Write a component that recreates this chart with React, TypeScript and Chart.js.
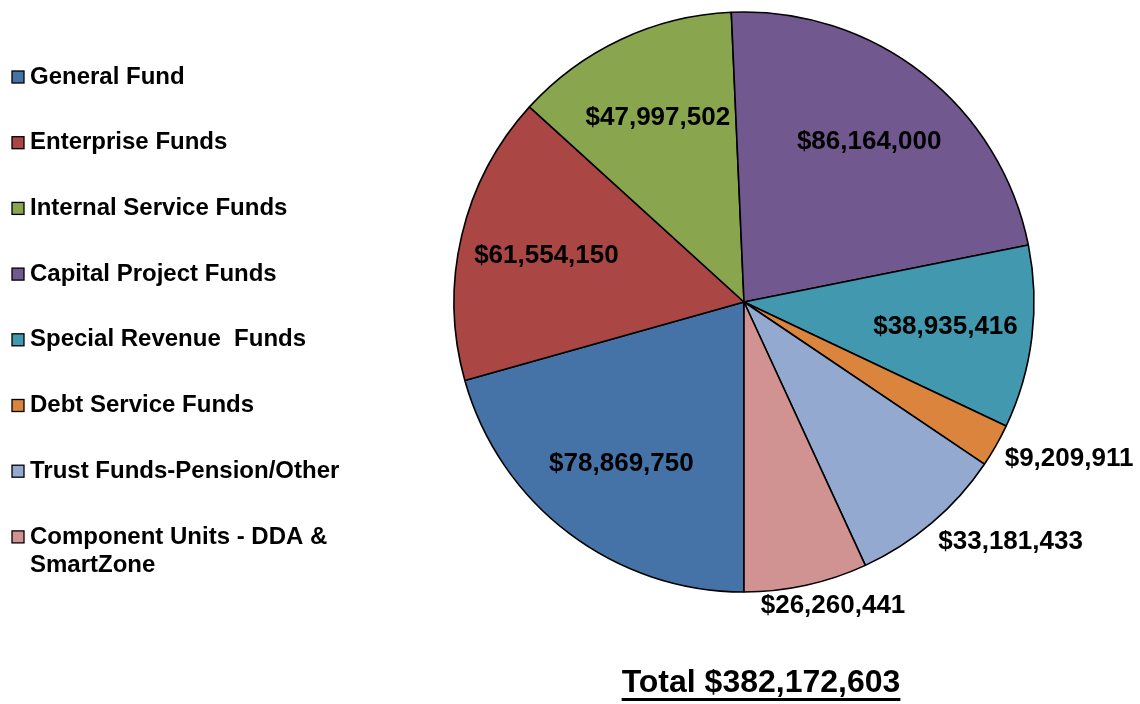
import React, { useEffect, useRef } from "react";
import { Chart, registerables } from "chart.js";

Chart.register(...registerables);

const categories = [
  "General Fund",
  "Enterprise Funds",
  "Internal Service Funds",
  "Capital Project Funds",
  "Special Revenue  Funds",
  "Debt Service Funds",
  "Trust Funds-Pension/Other",
  "Component Units - DDA & SmartZone",
];

const amounts = [78869750, 61554150, 47997502, 86164000, 38935416, 9209911, 33181433, 26260441];

const sliceColors = ["#4572A7", "#AA4643", "#89A54E", "#71588F", "#4198AF", "#DB843D", "#93A9CF", "#D19392"];

const FONT = '"Liberation Sans", Arial, Helvetica, sans-serif';

const fmt = (v: number) => "$" + v.toLocaleString("en-US");

const overlayPlugin = {
  id: "overlay",
  afterDatasetsDraw(chart: any) {
    const ctx = chart.ctx as CanvasRenderingContext2D;
    const meta = chart.getDatasetMeta(0);
    const data = chart.data.datasets[0].data as number[];
    const total = data.reduce((a, b) => a + b, 0);
    ctx.save();
    ctx.fillStyle = "#000";
    ctx.textBaseline = "middle";
    ctx.font = `bold 26px ${FONT}`;
    meta.data.forEach((arc: any, i: number) => {
      const { x, y, startAngle, endAngle, outerRadius } = arc.getProps(
        ["x", "y", "startAngle", "endAngle", "outerRadius"],
        true
      );
      const mid = (startAngle + endAngle) / 2;
      const dx = Math.cos(mid);
      const dy = Math.sin(mid);
      const txt = fmt(data[i]);
      const w = ctx.measureText(txt).width;
      const h = 22;
      ctx.textAlign = "center";
      if (data[i] / total > 0.095) {
        const r = outerRadius * 0.7;
        ctx.fillText(txt, x + dx * r, y + dy * r);
      } else {
        const r = outerRadius + 10;
        const px = x + dx * r;
        const py = y + dy * r;
        const kx = Math.max(-1, Math.min(1, dx * 1.6));
        const ky = Math.max(-1, Math.min(1, dy * 1.6));
        ctx.fillText(txt, px + (kx * w) / 2, py + (ky * h) / 2);
      }
    });

    // legend
    ctx.font = `bold 24px ${FONT}`;
    ctx.textAlign = "left";
    const labels = chart.data.labels as string[];
    const colors = chart.data.datasets[0].backgroundColor as string[];
    const maxW = 330;
    labels.forEach((lab, i) => {
      const cy = 77 + i * 65.7;
      ctx.fillStyle = colors[i];
      ctx.fillRect(12, cy - 6, 12, 12);
      ctx.strokeStyle = "#000";
      ctx.lineWidth = 1.3;
      ctx.strokeRect(12, cy - 6, 12, 12);
      ctx.fillStyle = "#000";
      const words = lab.split(" ");
      const lines: string[] = [];
      let cur = "";
      words.forEach((wd) => {
        const test = cur ? cur + " " + wd : wd;
        if (ctx.measureText(test).width > maxW && cur) {
          lines.push(cur);
          cur = wd;
        } else cur = test;
      });
      if (cur) lines.push(cur);
      lines.forEach((ln, j) => ctx.fillText(ln, 30, cy + j * 28));
    });

    // total
    ctx.font = `bold 32px ${FONT}`;
    ctx.textAlign = "center";
    ctx.textBaseline = "alphabetic";
    const ttxt = "Total " + fmt(total);
    const tw = ctx.measureText(ttxt).width;
    const tx = 761;
    ctx.fillText(ttxt, tx, 692);
    ctx.fillRect(tx - tw / 2, 698, tw, 3);
    ctx.restore();
  },
};

export default function App() {
  const ref = useRef<HTMLCanvasElement>(null);
  useEffect(() => {
    if (!ref.current) return;
    const chart = new Chart(ref.current, {
      type: "pie",
      data: {
        labels: categories,
        datasets: [
          {
            data: amounts,
            backgroundColor: sliceColors,
            borderColor: "#000",
            borderWidth: 1.6,
            hoverOffset: 0,
          },
        ],
      },
      options: {
        responsive: false,
        animation: false,
        devicePixelRatio: 1,
        rotation: 180,
        radius: 290,
        layout: { padding: { left: 454, top: 12, right: 106, bottom: 112 } },
        plugins: {
          legend: { display: false },
          tooltip: { enabled: false },
        },
        events: [],
      },
      plugins: [overlayPlugin],
    });
    return () => chart.destroy();
  }, []);
  return (
    <div style={{ position: "absolute", left: 0, top: 0, width: 1140, height: 704, background: "#fff" }}>
      <canvas ref={ref} width={1140} height={704} />
    </div>
  );
}
